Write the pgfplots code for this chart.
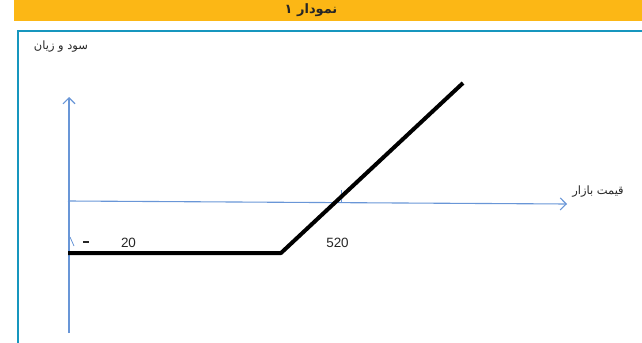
\documentclass[border=0pt]{standalone}
\usepackage{pgfplots}
\pgfplotsset{compat=1.18}
\usepackage{fontspec}
\setmainfont{Liberation Sans}
\newfontfamily\arabicfont[Script=Arabic]{DejaVu Sans}
\TeXXeTstate=1
\usetikzlibrary{arrows.meta}
\definecolor{barorange}{RGB}{252,183,21}
\definecolor{frameblue}{RGB}{22,150,190}
\definecolor{axisblue}{RGB}{105,150,215}

\begin{document}
\begin{tikzpicture}
\begin{axis}[
  scale only axis,
  width=642bp, height=343bp,
  xmin=0, xmax=642, ymin=0, ymax=343,
  y dir=reverse,
  hide axis,
  clip=false,
]
% header bar and frame
\fill[barorange] (axis cs:14,0) rectangle (axis cs:642,21);
\node[font=\arabicfont\bfseries\fontsize{13}{15}\selectfont, text=black!85] at (axis cs:311,10) {\beginR نمودار ۱\endR};
\draw[frameblue, line width=2.8bp] (axis cs:18,343) -- (axis cs:18,31) -- (axis cs:642,31);

% axes of the payoff diagram
\draw[axisblue, line width=1.1bp, -{Straight Barb[length=6bp,width=12bp]}] (axis cs:69,333) -- (axis cs:69,97);
\draw[axisblue, line width=1.1bp, -{Straight Barb[length=6bp,width=12bp]}] (axis cs:68,201) -- (axis cs:567,204);
\draw[axisblue, line width=1bp] (axis cs:341,190) -- (axis cs:341,202);
\draw[axisblue, line width=0.8bp] (axis cs:70,237) -- (axis cs:74,246);

% payoff line
\addplot[black, line width=4bp, line join=round] coordinates {(68,253) (281,253) (463,83)};

% labels
\node[font=\arabicfont\fontsize{11.5}{13}\selectfont, text=black!85] at (axis cs:61,47) {\beginR سود و زیان\endR};
\node[font=\arabicfont\fontsize{11.5}{13}\selectfont, text=black!85] at (axis cs:598,192) {\beginR قیمت بازار\endR};
\fill[black!85] (axis cs:83,240.5) rectangle (axis cs:89,243);
\node[font=\fontsize{13.5}{15}\selectfont, text=black!85] at (axis cs:128.5,243) {20};
\node[font=\fontsize{13.5}{15}\selectfont, text=black!85] at (axis cs:337.5,243) {520};
\end{axis}
\pgfresetboundingbox
\path[use as bounding box] (current axis.south west) rectangle (current axis.north east);
\end{tikzpicture}
\end{document}
